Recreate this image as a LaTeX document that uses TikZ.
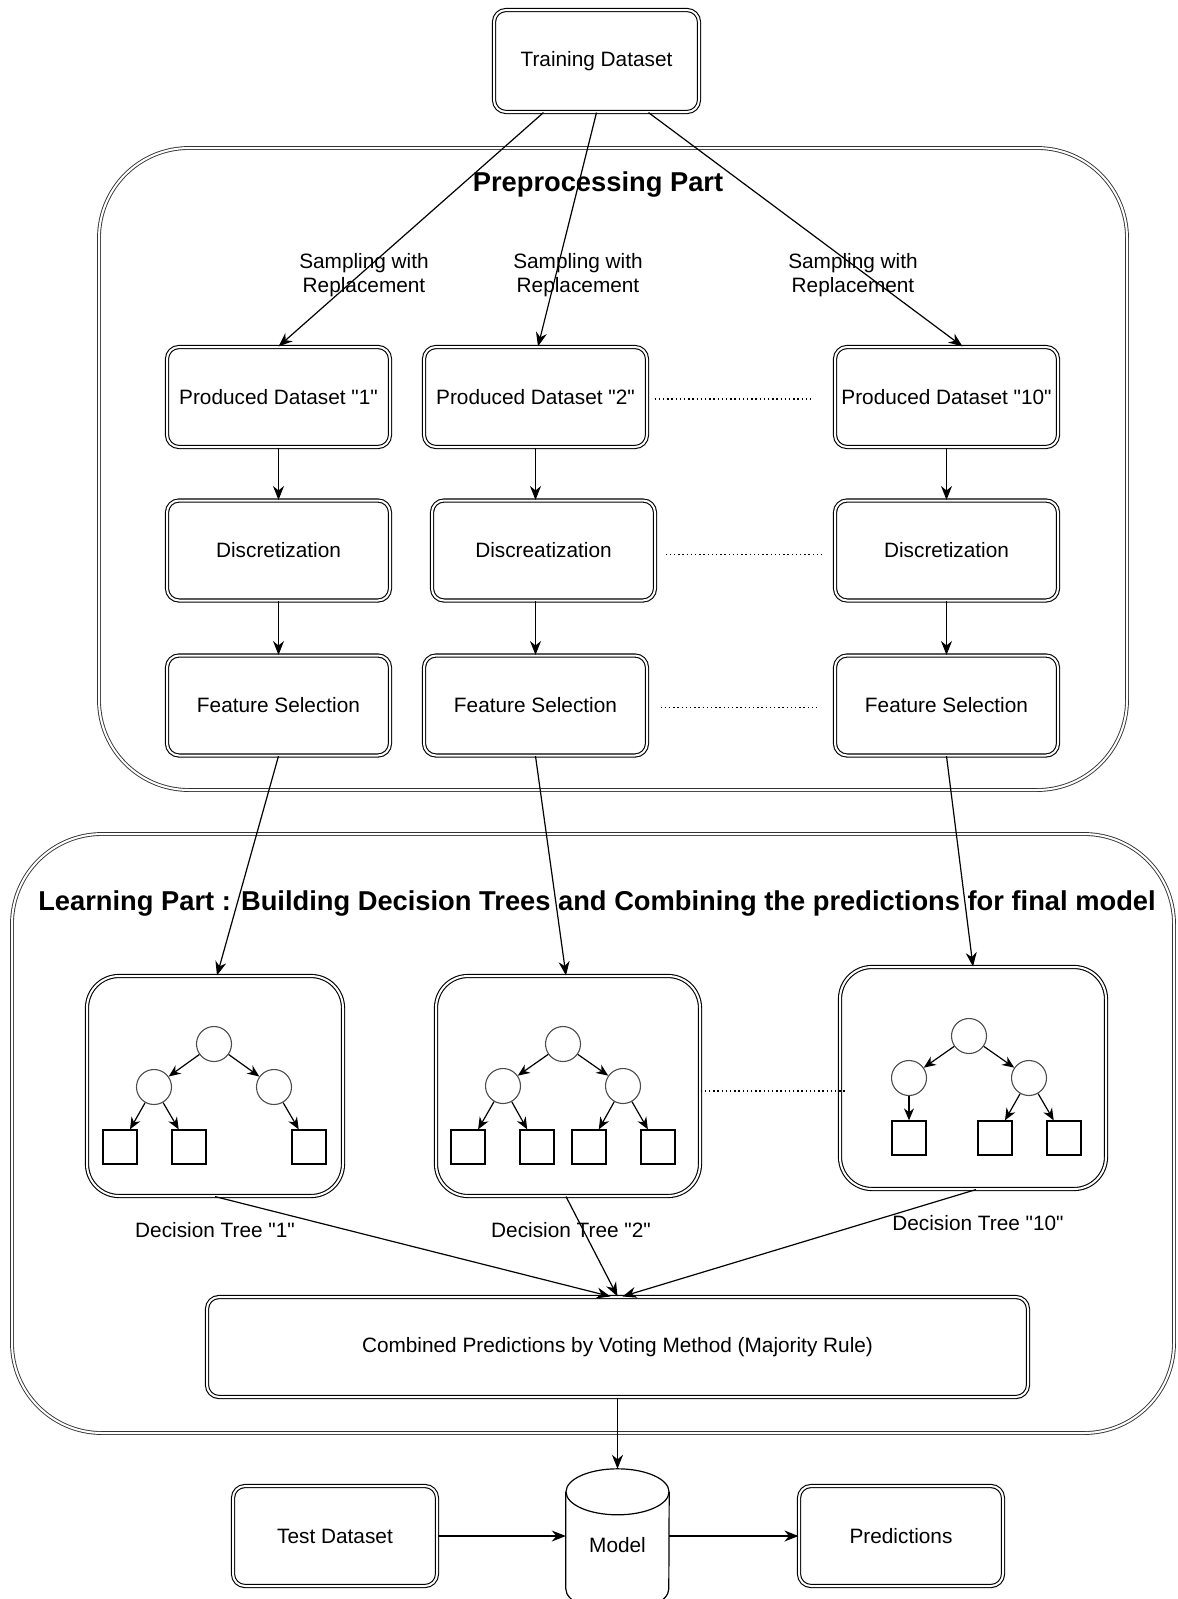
\documentclass[tikz,border=0pt]{standalone}
\usepackage{fontspec}
\setmainfont{Liberation Sans}
\usetikzlibrary{calc,positioning,arrows.meta}

\begin{document}
\begin{tikzpicture}[x=1pt,y=-1pt,>={Stealth[length=14pt,width=11pt]},
	font=\fontsize{20.8pt}{23.5pt}\selectfont,
	part/.style={draw=black!80, double, double distance=2pt, line width=0.9pt, rounded corners=90pt},
	parttitle/.style={font=\bfseries\fontsize{27.3pt}{32pt}\selectfont},
	stage/.style={draw, double, double distance=2pt, line width=1.1pt, rounded corners=12pt,
		minimum width=223pt, minimum height=100pt, inner sep=0pt, align=center},
	treebox/.style={stage, rounded corners=32pt, minimum height=220pt},
	decision/.style={draw=black!70, circle, line width=1.1pt, minimum size=35pt, inner sep=0pt},
	outcome/.style={draw, line width=1.3pt, minimum size=34pt, inner sep=0pt},
	flow/.style={->, line width=1.2pt},
	branch/.style={->, line width=1.2pt, >={Stealth[length=12pt,width=10pt]}},
	dots/.style={line width=1.5pt, dash pattern=on 1.5pt off 2.7pt}]

	\useasboundingbox (0,0) rectangle (1178,1599);

	%%% The two parts
	\node[part, minimum width=1028pt, minimum height=642pt] (prep) at (613,469) {};
	\node[parttitle] (preptitle) at (598,184) {Preprocessing Part};
	\node[part, minimum width=1162pt, minimum height=599pt] (learn) at (593,1133.5) {};
	\node[parttitle] (learntitle) at (597,903) {Learning Part : Building Decision Trees and Combining the predictions for final model};

	%%% Training data and bootstrap samples
	\node[stage, minimum width=205pt, minimum height=102pt] (train) at (596.5,61) {Training Dataset};
	\node[align=center] (sample1) at (364,275) {Sampling with\\Replacement};
	\node[align=center] (sample2) at (578,275) {Sampling with\\Replacement};
	\node[align=center] (sample10) at (853,275) {Sampling with\\Replacement};

	\node[stage] (dataset1) at (278.5,397) {Produced Dataset \textquotedbl 1\textquotedbl};
	\node[stage] (dataset2) at (535.5,397) {Produced Dataset \textquotedbl 2\textquotedbl};
	\node[stage] (dataset10) at (946.5,397) {Produced Dataset \textquotedbl 10\textquotedbl};
	\draw[flow] ([xshift=-53pt]train.south) -- (dataset1.north);
	\draw[flow] (train.south) -- ([xshift=2.5pt]dataset2.north);
	\draw[flow] ([xshift=52pt]train.south) -- ([xshift=16pt]dataset10.north);

	%% Discretization
	\node[stage] (discret1) at (278.5,550.5) {Discretization};
	\node[stage] (discret2) at (543.5,550.5) {Discreatization};
	\node[stage] (discret10) at (946.5,550.5) {Discretization};
	\draw[flow] (dataset1) -- (discret1);
	\draw[flow] (dataset2.south) -- (dataset2.south |- discret2.north);
	\draw[flow] (dataset10) -- (discret10);

	%% Feature selection
	\node[stage] (select1) at (278.5,705.5) {Feature Selection};
	\node[stage] (select2) at (535.5,705.5) {Feature Selection};
	\node[stage] (select10) at (946.5,705.5) {Feature Selection};
	\draw[flow] (discret1) -- (select1);
	\draw[flow] (select2.north |- discret2.south) -- (select2.north);
	\draw[flow] (discret10) -- (select10);

	\draw[dots] ([xshift=7pt,yshift=-2pt]dataset2.east) -- ([xshift=-23pt,yshift=-2pt]dataset10.west);
	\draw[dots] ([xshift=10pt,yshift=-4pt]discret2.east) -- ([xshift=-13pt,yshift=-4pt]discret10.west);
	\draw[dots] ([xshift=13pt,yshift=-2pt]select2.east) -- ([xshift=-17pt,yshift=-2pt]select10.west);

	%%% Decision Tree "1"
	\node[treebox, minimum width=256pt] (tree1) at (215,1086) {};
	\begin{scope}[shift={(214,1044)}]
		\node[decision] (root1) at (0,0) {};
		\node[decision] (left1) at (-60,43) {};
		\node[decision] (right1) at (60,43) {};
		\node[outcome] (leaf1a) at (-94,103) {};
		\node[outcome] (leaf1b) at (-25,103) {};
		\node[outcome] (leaf1c) at (95,103) {};
	\end{scope}
	\draw[branch] (root1) -- (left1);
	\draw[branch] (root1) -- (right1);
	\draw[branch] (left1) -- (leaf1a);
	\draw[branch] (left1) -- (leaf1b);
	\draw[branch] (right1) -- (leaf1c);
	\node[below=22pt of tree1] (label1) {Decision Tree \textquotedbl 1\textquotedbl};

	%%% Decision Tree "2"
	\node[treebox, minimum width=264pt] (tree2) at (568,1086) {};
	\begin{scope}[shift={(563,1044)}]
		\node[decision] (root2) at (0,0) {};
		\node[decision] (left2) at (-60,42) {};
		\node[decision] (right2) at (60,42) {};
		\node[outcome] (leaf2a) at (-95,103) {};
		\node[outcome] (leaf2b) at (-26,103) {};
		\node[outcome] (leaf2c) at (26,103) {};
		\node[outcome] (leaf2d) at (95,103) {};
	\end{scope}
	\draw[branch] (root2) -- (left2);
	\draw[branch] (root2) -- (right2);
	\draw[branch] (left2) -- (leaf2a);
	\draw[branch] (left2) -- (leaf2b);
	\draw[branch] (right2) -- (leaf2c);
	\draw[branch] (right2) -- (leaf2d);
	\node[below=22pt of tree2, xshift=3pt] (label2) {Decision Tree \textquotedbl 2\textquotedbl};

	%%% Decision Tree "10"
	\node[treebox, minimum width=266pt, minimum height=222pt] (tree10) at (973,1078) {};
	\begin{scope}[shift={(969,1036)}]
		\node[decision] (root10) at (0,0) {};
		\node[decision] (left10) at (-60,42) {};
		\node[decision] (right10) at (60,42) {};
		\node[outcome] (leaf10a) at (-60,102) {};
		\node[outcome] (leaf10b) at (26,102) {};
		\node[outcome] (leaf10c) at (95,102) {};
	\end{scope}
	\draw[branch] (root10) -- (left10);
	\draw[branch] (root10) -- (right10);
	\draw[branch] (left10) -- (leaf10a);
	\draw[branch] (right10) -- (leaf10b);
	\draw[branch] (right10) -- (leaf10c);
	\node[below=22pt of tree10, xshift=5pt] (label10) {Decision Tree \textquotedbl 10\textquotedbl};

	\draw[dots] ([yshift=-5pt]tree2.east) -- ([xshift=8pt,yshift=-13pt]tree10.west);

	%% Feature selection to trees
	\draw[flow] (select1.south) -- ([xshift=2pt]tree1.north);
	\draw[flow] (select2.south) -- ([xshift=-2pt]tree2.north);
	\draw[flow] (select10.south) -- (tree10.north);

	%%% Voting and final model
	\node[stage, minimum width=821pt] (combined) at (617.5,1347) {Combined Predictions by Voting Method (Majority Rule)};
	\draw[flow] (tree1.south) -- ([xshift=-7pt]combined.north);
	\draw[flow] ([xshift=-2pt]tree2.south) -- (combined.north);
	\draw[flow] ([xshift=3pt]tree10.south) -- ([xshift=5pt]combined.north);

	\node[minimum width=103pt, minimum height=152pt, inner sep=0pt] (model) at (617.5,1545) {Model};
	\draw[line width=1.2pt] ([yshift=-23pt]model.north west) -- ++(0,97)
		arc[start angle=180, end angle=360, x radius=51.5pt, y radius=23pt]
		-- ([yshift=-23pt]model.north east);
	\draw[line width=1.2pt] ([yshift=-23pt]model.north) ellipse [x radius=51.5pt, y radius=23pt];

	\node[stage, minimum width=204pt] (test) at (335,1536) {Test Dataset};
	\node[stage, minimum width=204pt] (pred) at (901,1536) {Predictions};
	\draw[flow] (combined.south) -- (model.north);
	\draw[flow] (test.east) -- (test.east -| model.west);
	\draw[flow] (model.east |- pred.west) -- (pred.west);
\end{tikzpicture}
\end{document}
